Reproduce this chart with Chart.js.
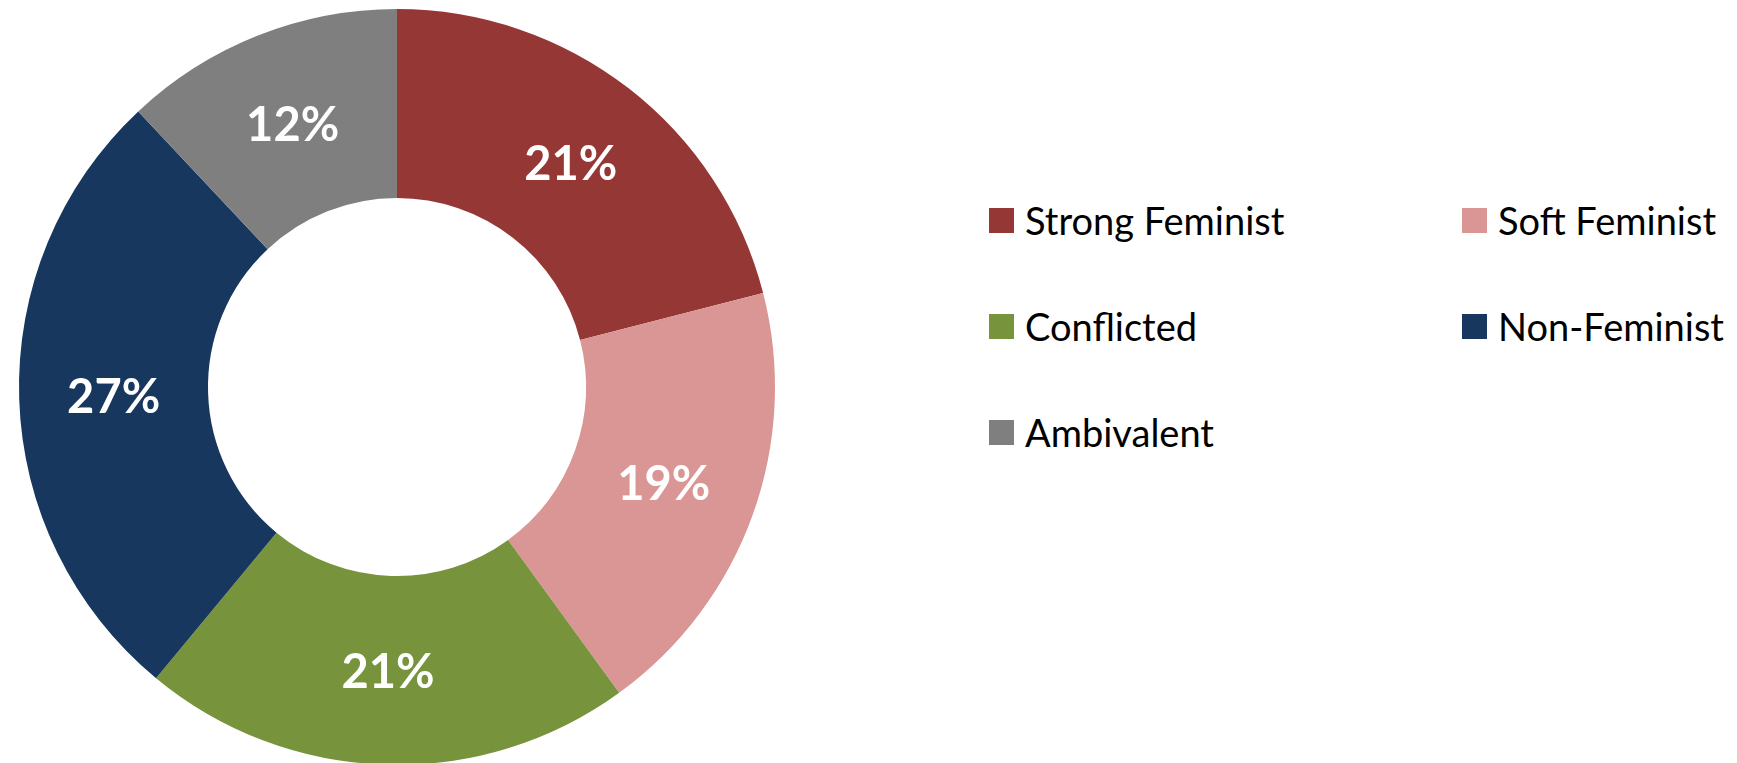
<!DOCTYPE html>
<html>
<head>
<meta charset="utf-8">
<script src="https://cdn.jsdelivr.net/npm/chart.js@4"></script>
<style>
  html, body { margin: 0; padding: 0; background: #fff; overflow: hidden; }
  body { width: 1737px; height: 763px; position: relative; }
  .canvas-container { position: absolute; left: 0; top: 0; width: 794px; height: 774px; }
  #legend {
    position: absolute; left: 989px; top: 167px;
    display: grid; grid-template-columns: 473px auto; grid-auto-rows: 106px;
    font-family: Lato, sans-serif; font-size: 38px; color: #000;
  }
  .legend-item { display: flex; align-items: center; white-space: nowrap; }
  .legend-box { width: 25px; height: 25px; margin-right: 11px; flex: none; }
</style>
</head>
<body>
<div class="canvas-container">
  <canvas id="donutChart"></canvas>
</div>
<div id="legend"></div>
<script>
const categories = ['Strong Feminist', 'Soft Feminist', 'Conflicted', 'Non-Feminist', 'Ambivalent'];
const shares = [21, 19, 21, 27, 12];
const colors = ['#953735', '#D99694', '#77933C', '#17375E', '#7F7F7F'];

// white percentage text at the middle of each slice
const sliceLabels = {
  id: 'sliceLabels',
  afterDatasetsDraw(chart) {
    const ctx = chart.ctx;
    const meta = chart.getDatasetMeta(0);
    ctx.save();
    ctx.fillStyle = '#fff';
    ctx.font = 'bold 47px Lato';
    ctx.textAlign = 'center';
    ctx.textBaseline = 'middle';
    meta.data.forEach((arc, i) => {
      const pos = arc.tooltipPosition();
      ctx.fillText(chart.data.datasets[0].data[i] + '%', pos.x, pos.y + 2);
    });
    ctx.restore();
  }
};

// legend laid out in two columns, row by row
const htmlLegend = {
  id: 'htmlLegend',
  afterUpdate(chart) {
    const box = document.getElementById('legend');
    box.innerHTML = '';
    const items = chart.options.plugins.legend.labels.generateLabels(chart);
    items.forEach(item => {
      const el = document.createElement('div');
      el.className = 'legend-item';
      const sq = document.createElement('span');
      sq.className = 'legend-box';
      sq.style.background = item.fillStyle;
      el.appendChild(sq);
      el.appendChild(document.createTextNode(item.text));
      box.appendChild(el);
    });
  }
};

new Chart(document.getElementById('donutChart'), {
  type: 'doughnut',
  data: {
    labels: categories,
    datasets: [{
      data: shares,
      backgroundColor: colors,
      borderWidth: 0
    }]
  },
  options: {
    responsive: true,
    maintainAspectRatio: false,
    animation: false,
    radius: 378,
    cutout: '50%',
    plugins: {
      legend: { display: false },
      tooltip: { enabled: false }
    }
  },
  plugins: [sliceLabels, htmlLegend]
});
</script>
</body>
</html>
